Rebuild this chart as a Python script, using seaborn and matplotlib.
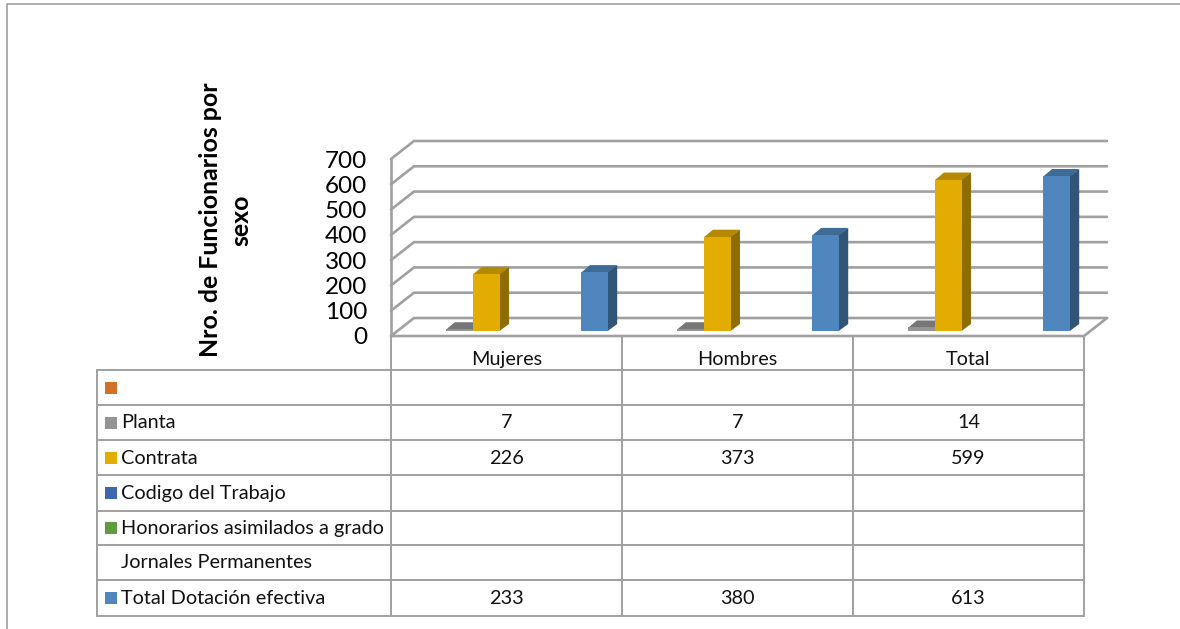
import matplotlib.pyplot as plt
import seaborn as sns
import pandas as pd
import numpy as np
from matplotlib.patches import Polygon, Rectangle
from matplotlib.transforms import Affine2D, IdentityTransform
from matplotlib.colors import to_rgb

categories = ['Mujeres', 'Hombres', 'Total']
series_names = [' ', 'Planta', 'Contrata', 'Codigo del Trabajo',
                'Honorarios asimilados a grado', 'Jornales Permanentes',
                'Total Dotación efectiva']
blank = [np.nan, np.nan, np.nan]
planta = [7, 7, 14]
contrata = [226, 373, 599]
codigo = [np.nan, np.nan, np.nan]
honorarios = [np.nan, np.nan, np.nan]
jornales = [np.nan, np.nan, np.nan]
total = [233, 380, 613]
all_series = [blank, planta, contrata, codigo, honorarios, jornales, total]
key_colors = ['#D2702A', '#949494', '#E3AC00', '#3C66AE', '#649A3F', None, '#4F86BD']
y_ticks = [0, 100, 200, 300, 400, 500, 600, 700]

rows = []
for name, values in zip(series_names, all_series):
    for cat, v in zip(categories, values):
        rows.append({'cat': cat, 'serie': name, 'valor': v})
df = pd.DataFrame(rows)

W, H = 1180, 629
GRID = '#A0A0A0'
sns.set_theme(style='white')
plt.rcParams['font.family'] = ['Lato', 'DejaVu Sans']

fig = plt.figure(figsize=(W / 100, H / 100), dpi=100, facecolor='white')
# front edge of the floor goes from x=391 to x=1084, values 0-700 from y=336 to y=159
ax = fig.add_axes([391 / W, 1 - 336 / H, 693 / W, 177 / H])
ax.patch.set_visible(False)

palette = {n: (c if c else '#FFFFFF') for n, c in zip(series_names, key_colors)}
sns.barplot(data=df, x='cat', y='valor', hue='serie', order=categories,
            hue_order=series_names, palette=palette, width=0.82, gap=0,
            errorbar=None, legend=False, ax=ax, saturation=1, linewidth=0)
ax.set_xlim(-0.5, 2.5)
ax.set_ylim(0, 700)
ax.set_yticks(y_ticks)
ax.tick_params(axis='y', labelsize=17.5, length=0, pad=17, labelcolor='black')
ax.tick_params(axis='x', labelsize=14.3, length=0, pad=11, labelcolor='#111111')
ax.set_xlabel('')
ax.set_ylabel('Nro. de Funcionarios por\nsexo', fontsize=17.9, fontweight='bold',
              color='black', va='center', linespacing=1.4)
ax.yaxis.set_label_coords(-0.238, 0.655)
for s in ax.spines.values():
    s.set_visible(False)


def shade(color, f):
    return tuple(c * f for c in to_rgb(color))


# walls and floor, drawn in pixels from the axes scale
px = IdentityTransform()
DX, DY = 23, 18
x0, _ = ax.transData.transform((-0.5, 0))
x1, _ = ax.transData.transform((2.5, 0))
for t in y_ticks:
    yd = ax.transData.transform((0, t))[1]
    ax.plot([x0, x0 + DX, x1 + DX], [yd, yd + DY, yd + DY], color=GRID, lw=1.9,
            transform=px, clip_on=False, zorder=1, solid_joinstyle='miter')
y_base = ax.transData.transform((0, 0))[1]
y_top = ax.transData.transform((0, 700))[1]
ax.plot([x0, x0], [y_base, y_top], color=GRID, lw=1.9, transform=px, clip_on=False, zorder=1)
ax.plot([x0, x1, x1 + DX], [y_base, y_base, y_base + DY], color=GRID, lw=1.9,
        transform=px, clip_on=False, zorder=1)

# bars stand a little behind the front edge, with side and top faces
BX, BY = 7, 5
SX, SY = 9, 7
shift = Affine2D().translate(BX, BY)
bars = [p for p in ax.patches if isinstance(p, Rectangle) and np.isfinite(p.get_height()) and p.get_height() > 0]
for i, p in enumerate(bars):
    (xa, ya) = ax.transData.transform((p.get_x(), 0))
    (xb, yb) = ax.transData.transform((p.get_x() + p.get_width(), p.get_height()))
    xa, xb, ya, yb = xa + BX, xb + BX, ya + BY, yb + BY
    col = p.get_facecolor()
    z = 3 + i
    p.set_transform(ax.transData + shift)
    p.set_zorder(z)
    p.set_clip_on(False)
    ax.add_patch(Polygon([(xb - 0.5, ya), (xb + SX, ya + SY), (xb + SX, yb + SY), (xb - 0.5, yb)],
                         facecolor=shade(col, 0.63), edgecolor='none', transform=px,
                         clip_on=False, zorder=z - 0.5))
    ax.add_patch(Polygon([(xa, yb - 0.5), (xa + SX, yb + SY), (xb + SX, yb + SY), (xb, yb - 0.5)],
                         facecolor=shade(col, 0.8), edgecolor='none', transform=px,
                         clip_on=False, zorder=z - 0.5))

# data table below the chart, in pixel coordinates
tb = fig.add_axes([0, 0, 1, 1], zorder=-1)
tb.set_xlim(0, W)
tb.set_ylim(H, 0)
tb.axis('off')
row_y = [370, 405, 440, 475, 510.5, 545, 580, 615.5]
col_x = [391, 622, 853, 1084]
for y in row_y:
    tb.plot([97, 1084], [y, y], color=GRID, lw=1.4)
tb.plot([97, 97], [370, 615.5], color=GRID, lw=1.4)
for x in col_x:
    tb.plot([x, x], [336, 615.5], color=GRID, lw=1.4)
for r, (name, values, c) in enumerate(zip(series_names, all_series, key_colors)):
    yc = (row_y[r] + row_y[r + 1]) / 2
    if c:
        tb.add_patch(Rectangle((105, yc - 6), 12, 12, facecolor=c, edgecolor='none'))
    tb.text(121, yc + 0.5, name.strip(), fontsize=14.3, color='#111111', va='center', ha='left')
    for k, v in enumerate(values):
        if np.isfinite(v):
            tb.text((col_x[k] + col_x[k + 1]) / 2, yc + 0.5, str(v), fontsize=14.3,
                    color='#111111', va='center', ha='center')

# outer chart border
tb.plot([6.5, 6.5, W], [H, 3.5, 3.5], color=GRID, lw=1.2, clip_on=False)

fig.savefig('out.png', dpi=100, facecolor='white')
